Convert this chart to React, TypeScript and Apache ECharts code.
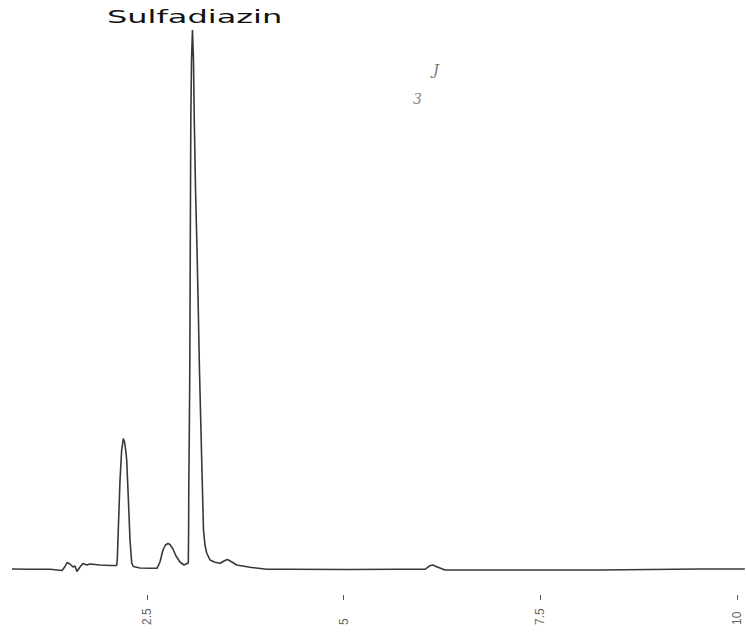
import React, { useEffect, useRef } from "react";
import * as echarts from "echarts";

// Retention time (min) and detector signal (arbitrary units)
const timeMin: number[] = [
  0.784, 1.013, 1.267, 1.42, 1.458, 1.483, 1.521, 1.559, 1.585, 1.61, 1.648, 1.686, 1.737, 1.775,
  1.903, 2.03, 2.115, 2.122, 2.135, 2.157, 2.178, 2.199, 2.214, 2.229, 2.242, 2.262, 2.284, 2.306,
  2.326, 2.411, 2.538, 2.627, 2.665, 2.703, 2.735, 2.767, 2.792, 2.83, 2.869, 2.919, 2.97, 3.025,
  3.029, 3.031, 3.038, 3.044, 3.05, 3.057, 3.066, 3.078, 3.091, 3.101, 3.117, 3.136, 3.152, 3.167,
  3.186, 3.205, 3.218, 3.237, 3.259, 3.301, 3.364, 3.428, 3.491, 3.523, 3.574, 3.64, 3.809, 4.022,
  4.28, 5.08, 5.691, 6.034, 6.097, 6.132, 6.183, 6.288, 6.987, 8.258, 9.529, 10.1,
];
const signal: number[] = [
  0.5, 0.3, 0.3, -1.0, 3.0, 7.0, 5.5, 2.5, 3.5, -2.0, 2.5, 6.0, 4.5, 5.5,
  4.5, 4.0, 4.0, 9.5, 39.5, 89.5, 119.5, 131, 127.5, 119.5, 109.5, 72.5, 29.5, 6.5,
  3, 1.5, 1.2, 1.2, 7.5, 19.5, 24.5, 26, 25, 20.5, 13.5, 7.5, 4.5, 6.5,
  39.5, 79.5, 139.5, 199.5, 319.5, 449.5, 509.5, 539.5, 509.5, 449.5, 379.5, 319.5, 259.5, 199.5,
  139.5, 79.5, 39.5, 24.5, 16.5, 9.5, 7.2, 6.2, 9, 10, 7.8, 4.5, 2.2, 0.2,
  0.2, 0, 0.2, 0.2, 3.8, 4.5, 2.8, -0.5, -0.5, -0.5, 0.5, 0.5,
];
const tickValues: number[] = [2.5, 5, 7.5, 10];
const titleText = "Sulfadiazin";

export default function App() {
  const ref = useRef<HTMLDivElement>(null);
  useEffect(() => {
    if (!ref.current) return;
    const chart = echarts.init(ref.current, undefined, { renderer: "svg" });
    const data = timeMin.map((t, i) => [t, signal[i]]);
    chart.setOption({
      animation: false,
      backgroundColor: "#ffffff",
      grid: { left: 9.33, right: 1.13, top: 24.5, bottom: 48 },
      xAxis: {
        type: "value",
        min: 0.75,
        max: 10.1,
        axisLine: { show: false, onZero: false },
        splitLine: { show: false },
        axisTick: {
          show: true,
          length: 5,
          customValues: tickValues,
          lineStyle: { color: "#555", width: 1 },
        },
        axisLabel: {
          customValues: tickValues,
          rotate: 90,
          align: "left",
          verticalAlign: "middle",
          margin: 30,
          fontSize: 12,
          color: "#666",
          fontFamily: "Liberation Sans",
          formatter: (v: number) => String(v),
        },
      },
      yAxis: { type: "value", min: -25.5, max: 545, show: false },
      series: [
        {
          type: "line",
          data,
          showSymbol: false,
          clip: false,
          lineStyle: { color: "#383838", width: 1.6 },
        },
      ],
      graphic: [
        {
          type: "text",
          x: 107,
          y: 8,
          scaleX: 1.78,
          style: {
            text: titleText,
            font: "18px 'DejaVu Sans'",
            fill: "#111",
            textVerticalAlign: "top",
          },
        },
        {
          type: "text",
          x: 433,
          y: 62,
          style: { text: "J", font: "italic 15px 'DejaVu Serif'", fill: "#777" },
        },
        {
          type: "text",
          x: 413,
          y: 92,
          style: { text: "3", font: "italic 14px 'DejaVu Serif'", fill: "#888" },
        },
      ],
    });
    return () => chart.dispose();
  }, []);
  return (
    <div
      ref={ref}
      style={{ position: "absolute", left: 0, top: 0, width: 746, height: 643 }}
    />
  );
}
